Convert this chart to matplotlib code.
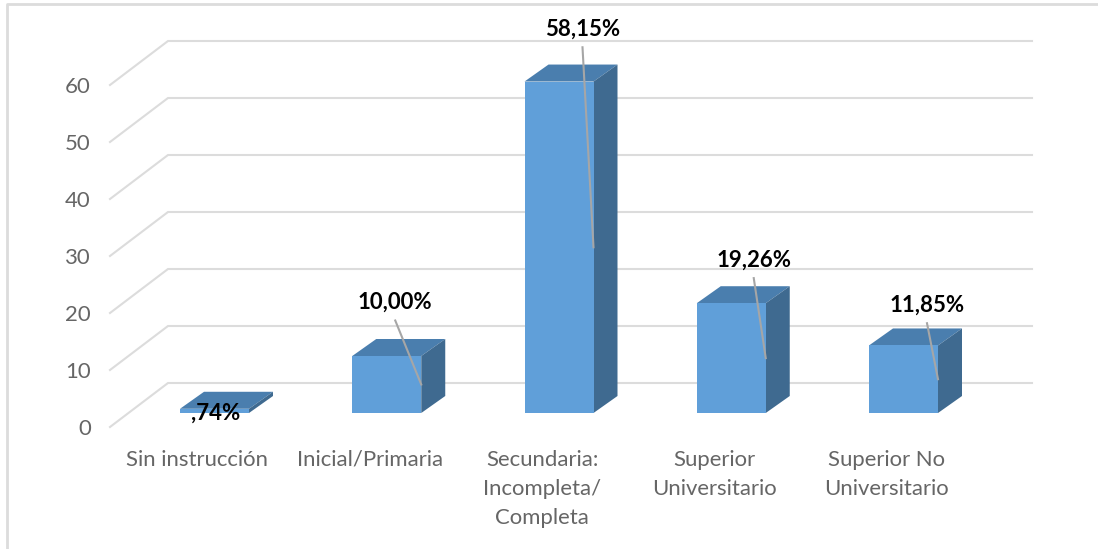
import matplotlib
matplotlib.use('Agg')
import matplotlib.pyplot as plt
from matplotlib.lines import Line2D
from matplotlib.patches import Polygon

categories = ['Sin instrucción', 'Inicial/Primaria', 'Secundaria:\nIncompleta/\nCompleta',
              'Superior\nUniversitario', 'Superior No\nUniversitario']
values = [0.74, 10.00, 58.15, 19.26, 11.85]
value_labels = [',74%', '10,00%', '58,15%', '19,26%', '11,85%']
y_ticks = [0, 10, 20, 30, 40, 50, 60]

# label centre relative to the front right corner of each bar, in pixels
label_offsets = [(-33, -2), (-26, 82), (-11, 218), (-12, 98), (-11, 74)]
show_leader = [False, True, True, True, True]

W, H = 1098, 549
X0, X_STEP = 214.5, 172.25   # pixel of category 0, pixels per category
Y0, Y_STEP = 413.0, 5.70     # pixel of value 0 at the bar front, pixels per unit
AX_LEFT, AX_BOTTOM = 95, 440

FRONT = '#609FD9'
TOP = '#4A7EAE'
SIDE = '#3F6A90'
GRID = '#DCDCDC'
TEXT = '#666666'

plt.rcParams['font.family'] = ['Lato', 'DejaVu Sans']

fig = plt.figure(figsize=(W / 100, H / 100), dpi=100)
fig.patch.set_facecolor('white')
ax = fig.add_axes([AX_LEFT / W, (H - AX_BOTTOM) / H, (W - AX_LEFT) / W, AX_BOTTOM / H])
ax.set_xlim((AX_LEFT - X0) / X_STEP, (W - X0) / X_STEP)
ax.set_ylim((Y0 - AX_BOTTOM) / Y_STEP, Y0 / Y_STEP)
for s in ax.spines.values():
    s.set_visible(False)

half = 34.5 / X_STEP
depth_x = 24 / X_STEP
depth_y = 17 / Y_STEP

# floor and wall lines
back_x, front_x, end_x = (168 - X0) / X_STEP, (110 - X0) / X_STEP, (1032 - X0) / X_STEP
back_y, front_y = 30 / Y_STEP, -14 / Y_STEP
for t in y_ticks:
    ax.plot([front_x, back_x, end_x], [t + front_y, t + back_y, t + back_y],
            color=GRID, lw=1.5, zorder=1, solid_joinstyle='miter')

# 3d bars
for i, v in enumerate(values):
    l, r = i - half, i + half
    ax.add_patch(Polygon([(l, v), (r, v), (r + depth_x, v + depth_y), (l + depth_x, v + depth_y)],
                         fc=TOP, ec='none', zorder=2))
    ax.add_patch(Polygon([(r, 0), (r + depth_x, depth_y), (r + depth_x, v + depth_y), (r, v)],
                         fc=SIDE, ec='none', zorder=2))
    ax.add_patch(Polygon([(l, 0), (r, 0), (r, v), (l, v)], fc=FRONT, ec='none', zorder=3))

# value labels and leader lines
for i, v in enumerate(values):
    dx, dy = label_offsets[i]
    lx = i + half + dx / X_STEP
    ly = v / 2 + dy / Y_STEP
    if show_leader[i]:
        ax.plot([lx, i + half], [ly - 18 / Y_STEP, v / 2], color='#A6A6A6', lw=1.5, zorder=4)
    ax.text(lx, ly, value_labels[i], ha='center', va='center', fontsize=16,
            fontweight='bold', color='black', zorder=5)

ax.set_xticks([i - 17 / X_STEP for i in range(len(categories))], categories)
ax.set_yticks([t + front_y for t in y_ticks], [str(t) for t in y_ticks])
ax.tick_params(axis='both', length=0, labelsize=15.9, labelcolor=TEXT)
ax.tick_params(axis='x', pad=7)
ax.tick_params(axis='y', pad=3)
for lab in ax.get_xticklabels():
    lab.set_linespacing(1.57)

# chart border, only top and left are visible
fig.add_artist(Line2D([7 / W, 7 / W, 1], [0, 1 - 4 / H, 1 - 4 / H], color=GRID, lw=2))

fig.savefig('out.png', dpi=100)
